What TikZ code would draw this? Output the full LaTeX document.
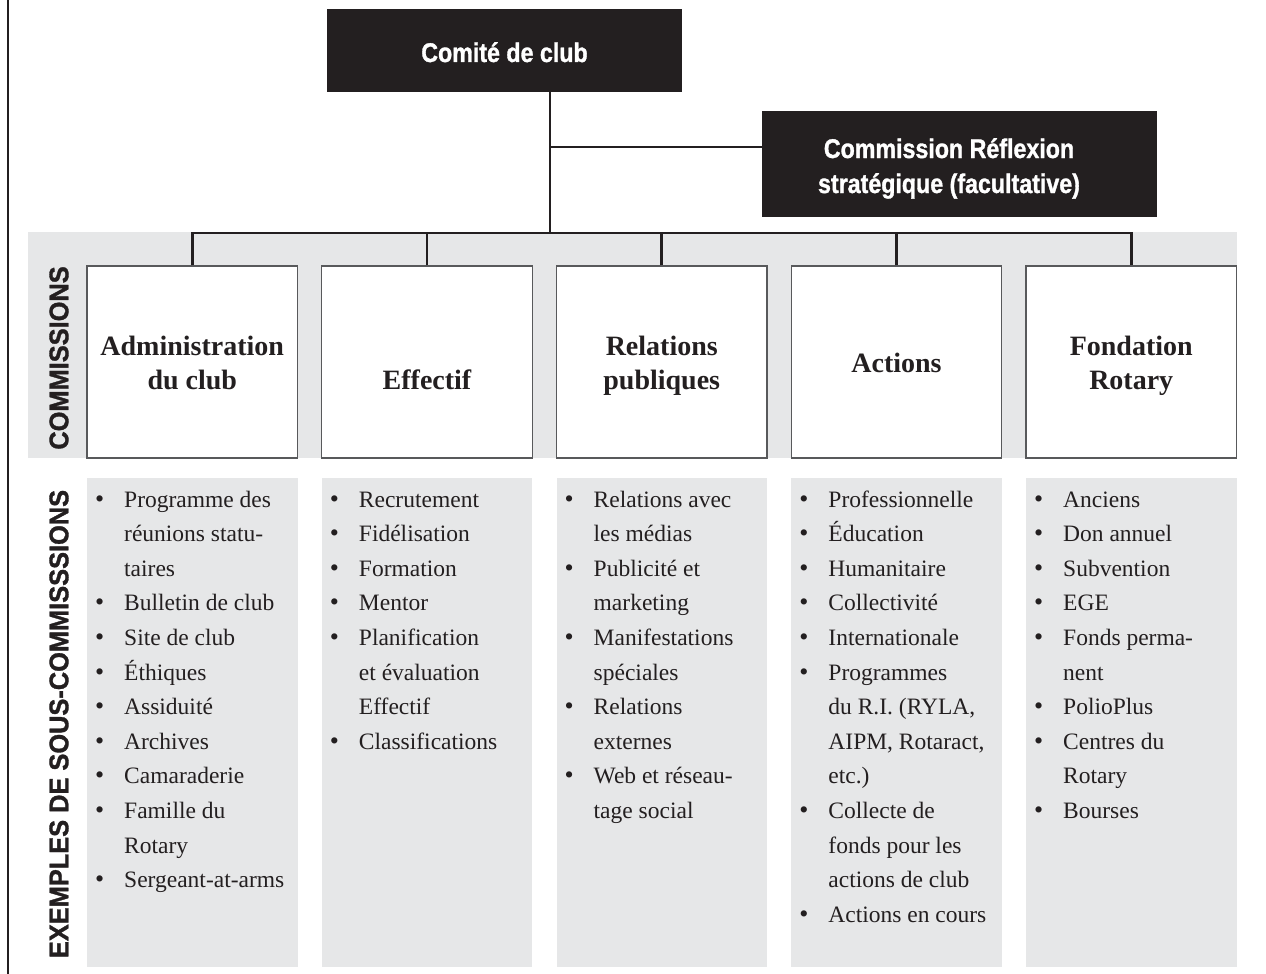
\documentclass[tikz,border=0pt]{standalone}
\usepackage{fontspec}
\setmainfont{Liberation Serif}
\newfontfamily\condfont[FakeStretch=0.86,FakeBold=1.2]{Liberation Sans Bold}
\newfontfamily\lblfont[FakeStretch=0.94,FakeBold=1.2]{Liberation Sans Bold}
\definecolor{ink}{HTML}{231F20}
\definecolor{bandgray}{HTML}{E6E7E8}
\definecolor{edgegray}{HTML}{58595B}
\newcommand{\itemcol}[1]{\fontsize{23.5}{34.6}\selectfont\begin{tabular}[t]{@{}p{29pt}@{}l@{}}#1\end{tabular}}
\newcommand{\bul}{{\fontsize{26}{26}\selectfont\textbullet}}
\begin{document}
\begin{tikzpicture}[x=1pt,y=-1pt,
  cbox/.style={draw=edgegray, line width=1.3pt, fill=white, minimum width=210.5pt, minimum height=192pt, inner sep=0pt},
  subbox/.style={fill=bandgray, minimum width=210.5pt, minimum height=489pt, inner sep=0pt},
  darkbox/.style={fill=ink, draw=none, inner sep=0pt},
  darktext/.style={text=white, inner sep=0pt, font=\condfont\fontsize{27}{35}\selectfont},
  ctext/.style={text=ink, inner sep=0pt, font=\bfseries\fontsize{28}{34}\selectfont},
  lbl/.style={text=ink, inner sep=0pt, font=\lblfont\fontsize{27}{30}\selectfont},
  itext/.style={text=ink, inner sep=0pt, anchor=base west},
  bus/.style={draw=ink, line width=2.6pt},
  conn/.style={draw=ink, line width=2.2pt},
]
\useasboundingbox (0,0) rectangle (1266,974);
\fill[white] (0,0) rectangle (1266,974);
% left frame line
\draw[ink, line width=2pt] (8,0) -- (8,974);
% grey band behind commissions
\fill[bandgray] (28,232) rectangle (1237,458);
% sub-commission grey columns
\foreach \i/\cx in {1/192.25,2/427,3/661.75,4/896.5,5/1131.25}{
  \node[subbox] (s\i) at (\cx,722.75) {};
}
% commission boxes
\node[cbox] (c1) at (192.25,362) {};
\node[cbox] (c2) at (427,362) {};
\node[cbox] (c3) at (661.75,362) {};
\node[cbox] (c4) at (896.5,362) {};
\node[cbox] (c5) at (1131.25,362) {};
\node[ctext, anchor=base] (t1) at (192.25,355) {\begin{tabular}[t]{@{}c@{}}Administration\\du club\end{tabular}};
\node[ctext, anchor=base] (t2) at (427,389) {Effectif};
\node[ctext, anchor=base] (t3) at (661.75,355) {\begin{tabular}[t]{@{}c@{}}Relations\\publiques\end{tabular}};
\node[ctext, anchor=base] (t4) at (896.5,372) {Actions};
\node[ctext, anchor=base] (t5) at (1131.25,355) {\begin{tabular}[t]{@{}c@{}}Fondation\\Rotary\end{tabular}};
% top boxes
\node[darkbox, minimum width=355pt, minimum height=83pt] (comite) at (504.5,50.5) {};
\node[darktext, anchor=base] (comitet) at (504.5,62) {Comité de club};
\node[darkbox, minimum width=395pt, minimum height=106pt] (refl) at (959.5,164) {};
\node[darktext, anchor=base] (reflt) at (949,158) {\begin{tabular}[t]{@{}c@{}}Commission Réflexion\\stratégique (facultative)\end{tabular}};
% connectors
\coordinate (trunk) at (550,233);
\coordinate (br) at (550,147);
\draw[conn] (comite.south -| trunk) -- (trunk);
\draw[conn] (br) -- (br -| refl.west);
\draw[bus] (c1.north) -- (c1.north |- trunk) -- (c5.north |- trunk) -- (c5.north);
\foreach \n in {c2,c3,c4}{\draw[bus] (\n.north) -- (\n.north |- trunk);}
% side labels
\node[lbl, rotate=90] (lc) at (59,358) {COMMISSIONS};
\node[lbl, rotate=90] (le) at (59,724) {EXEMPLES DE SOUS-COMMISSSIONS};
% sub-commission lists
\node[itext] (l1) at (95,507) {\itemcol{
\bul & Programme des\\ & réunions statu-\\ & taires\\
\bul & Bulletin de club\\ \bul & Site de club\\ \bul & Éthiques\\
\bul & Assiduité\\ \bul & Archives\\ \bul & Camaraderie\\
\bul & Famille du\\ & Rotary\\ \bul & Sergeant-at-arms}};
\node[itext] (l2) at (329.75,507) {\itemcol{
\bul & Recrutement\\ \bul & Fidélisation\\ \bul & Formation\\ \bul & Mentor\\
\bul & Planification\\ & et évaluation\\ & Effectif\\ \bul & Classifications}};
\node[itext] (l3) at (564.5,507) {\itemcol{
\bul & Relations avec\\ & les médias\\ \bul & Publicité et\\ & marketing\\
\bul & Manifestations\\ & spéciales\\ \bul & Relations\\ & externes\\
\bul & Web et réseau-\\ & tage social}};
\node[itext] (l4) at (799.25,507) {\itemcol{
\bul & Professionnelle\\ \bul & Éducation\\ \bul & Humanitaire\\ \bul & Collectivité\\
\bul & Internationale\\ \bul & Programmes\\ & du R.I. (RYLA,\\ & AIPM, Rotaract,\\ & etc.)\\
\bul & Collecte de\\ & fonds pour les\\ & actions de club\\ \bul & Actions en cours}};
\node[itext] (l5) at (1034,507) {\itemcol{
\bul & Anciens\\ \bul & Don annuel\\ \bul & Subvention\\ \bul & EGE\\
\bul & Fonds perma-\\ & nent\\ \bul & PolioPlus\\ \bul & Centres du\\ & Rotary\\ \bul & Bourses}};
\end{tikzpicture}
\end{document}
